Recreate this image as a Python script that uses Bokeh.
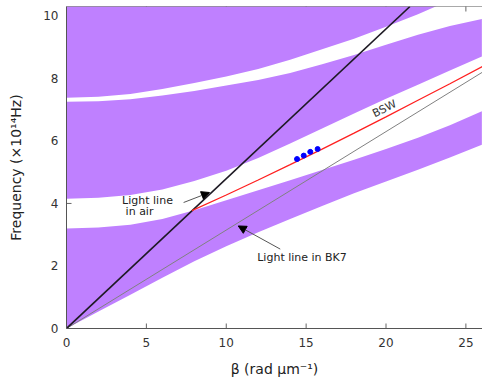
import numpy as np
from bokeh.plotting import figure
from bokeh.models import Range1d, Arrow, NormalHead, Span
from bokeh.embed import file_html
from bokeh.resources import INLINE
from bokeh.core.properties import value

# ---- data ----
beta_grid = [0, 2, 4, 6, 8, 10, 12, 14, 16, 18, 20, 22, 24, 26]
band1_low = [0.0, 0.54, 1.08, 1.62, 2.15, 2.63, 3.08, 3.50, 3.92, 4.33, 4.70, 5.08, 5.47, 5.88]
band1_high = [3.20, 3.23, 3.32, 3.50, 3.78, 4.10, 4.42, 4.74, 5.07, 5.40, 5.74, 6.10, 6.50, 6.95]
band2_low = [4.15, 4.18, 4.27, 4.45, 4.72, 5.05, 5.45, 5.92, 6.40, 6.88, 7.35, 7.80, 8.25, 8.70]
band2_high = [7.25, 7.27, 7.33, 7.45, 7.60, 7.77, 7.95, 8.17, 8.45, 8.75, 9.08, 9.40, 9.68, 9.90]
band3_low = [7.38, 7.41, 7.50, 7.66, 7.85, 8.06, 8.30, 8.60, 8.93, 9.27, 9.65, 10.05, 10.50, 10.95]
freq_max = 10.3
beta_max = 26.04

air_beta = [0, 21.5]
air_freq = [0, 10.3]
bk7_beta = [0, 26.04]
bk7_freq = [0, 8.20]

bsw_beta = [7.85, 10, 12, 14, 16, 18, 20, 22, 24, 26.04]
bsw_freq = [3.77, 4.27, 4.75, 5.24, 5.74, 6.25, 6.77, 7.30, 7.83, 8.38]

meas_beta = [14.43, 14.85, 15.26, 15.72]
meas_freq = [5.42, 5.53, 5.65, 5.74]

x_ticks = [0, 5, 10, 15, 20, 25]
y_ticks = [0, 2, 4, 6, 8, 10]

FONT = "DejaVu Sans"
PURPLE = "#bf80ff"
AXIS_COLOR = "#555555"
TICK_COLOR = "#666666"

p = figure(width=482, height=381, output_backend="svg", toolbar_location=None,
           x_range=Range1d(0, beta_max), y_range=Range1d(0, freq_max),
           x_axis_label="β (rad µm⁻¹)", y_axis_label="Frequency (×10¹⁴Hz)",
           min_border_left=66, min_border_right=0, min_border_top=6, min_border_bottom=53)
p.grid.visible = False
p.outline_line_color = None
p.background_fill_color = "white"
p.border_fill_color = "white"

# inward tick marks, drawn first so that the bands hide them (as in the reference)
p.scatter(x=[0] * len(y_ticks), y=y_ticks, marker="dash", size=10, line_color=TICK_COLOR, line_width=1)
p.scatter(x=x_ticks, y=[0] * len(x_ticks), marker="dash", angle=np.pi / 2, size=10,
          line_color=TICK_COLOR, line_width=1)
p.scatter(x=x_ticks, y=[freq_max] * len(x_ticks), marker="dash", angle=np.pi / 2, size=10,
          line_color=TICK_COLOR, line_width=1)

# bands
top_arr = [freq_max + 1.0] * len(beta_grid)
p.varea(x=beta_grid, y1=band1_low, y2=band1_high, fill_color=PURPLE)
p.varea(x=beta_grid, y1=band2_low, y2=band2_high, fill_color=PURPLE)
p.varea(x=beta_grid, y1=band3_low, y2=top_arr, fill_color=PURPLE)

# lines
p.line(bk7_beta, bk7_freq, line_color="#808080", line_width=1)
p.line(air_beta, air_freq, line_color="#1e1a24", line_width=1.6)
p.line(bsw_beta, bsw_freq, line_color="#ff2020", line_width=1.3)
p.scatter(meas_beta, meas_freq, size=5, fill_color="#0000ff", line_color="#0000ff")

# annotations
p.text(x=[19.9], y=[7.03], text=["BSW"], angle=0.46, text_align="center", text_baseline="middle",
       text_font=value(FONT), text_font_size="11px", text_color="#333333")
p.text(x=[3.48, 3.70], y=[4.11, 3.73], text=["Light line", "in air"], text_align="left",
       text_baseline="middle", text_font=value(FONT), text_font_size="11px", text_color="#222222")
p.text(x=[11.94], y=[2.27], text=["Light line in BK7"], text_align="left", text_baseline="middle",
       text_font=value(FONT), text_font_size="11px", text_color="#222222")

p.add_layout(Arrow(end=NormalHead(size=8, fill_color="black", line_color="black"),
                   x_start=7.33, y_start=4.03, x_end=8.95, y_end=4.35,
                   line_color="#555555", line_width=1))
p.add_layout(Arrow(end=NormalHead(size=8, fill_color="black", line_color="black"),
                   x_start=13.38, y_start=2.54, x_end=10.75, y_end=3.28,
                   line_color="#555555", line_width=1))

# axes: labels only, the marks above are the ticks
for ax, ticks in ((p.xaxis[0], x_ticks), (p.yaxis[0], y_ticks)):
    ax.ticker = ticks
    ax.major_tick_in = 0
    ax.major_tick_out = 0
    ax.major_tick_line_color = None
    ax.minor_tick_line_color = None
    ax.axis_line_color = AXIS_COLOR
    ax.major_label_text_font = FONT
    ax.major_label_text_font_size = "12px"
    ax.major_label_text_color = "#333333"
    ax.axis_label_text_font = FONT
    ax.axis_label_text_font_size = "14px"
    ax.axis_label_text_font_style = "normal"
    ax.axis_label_text_color = "#222222"
p.xaxis.major_label_standoff = 9
p.xaxis.axis_label_standoff = 11
p.yaxis.major_label_standoff = 8
p.yaxis.axis_label_standoff = 16

# top frame line
p.add_layout(Span(location=freq_max, dimension="width", line_color=AXIS_COLOR, line_width=1))

open("out.html", "w").write(file_html(p, INLINE))
